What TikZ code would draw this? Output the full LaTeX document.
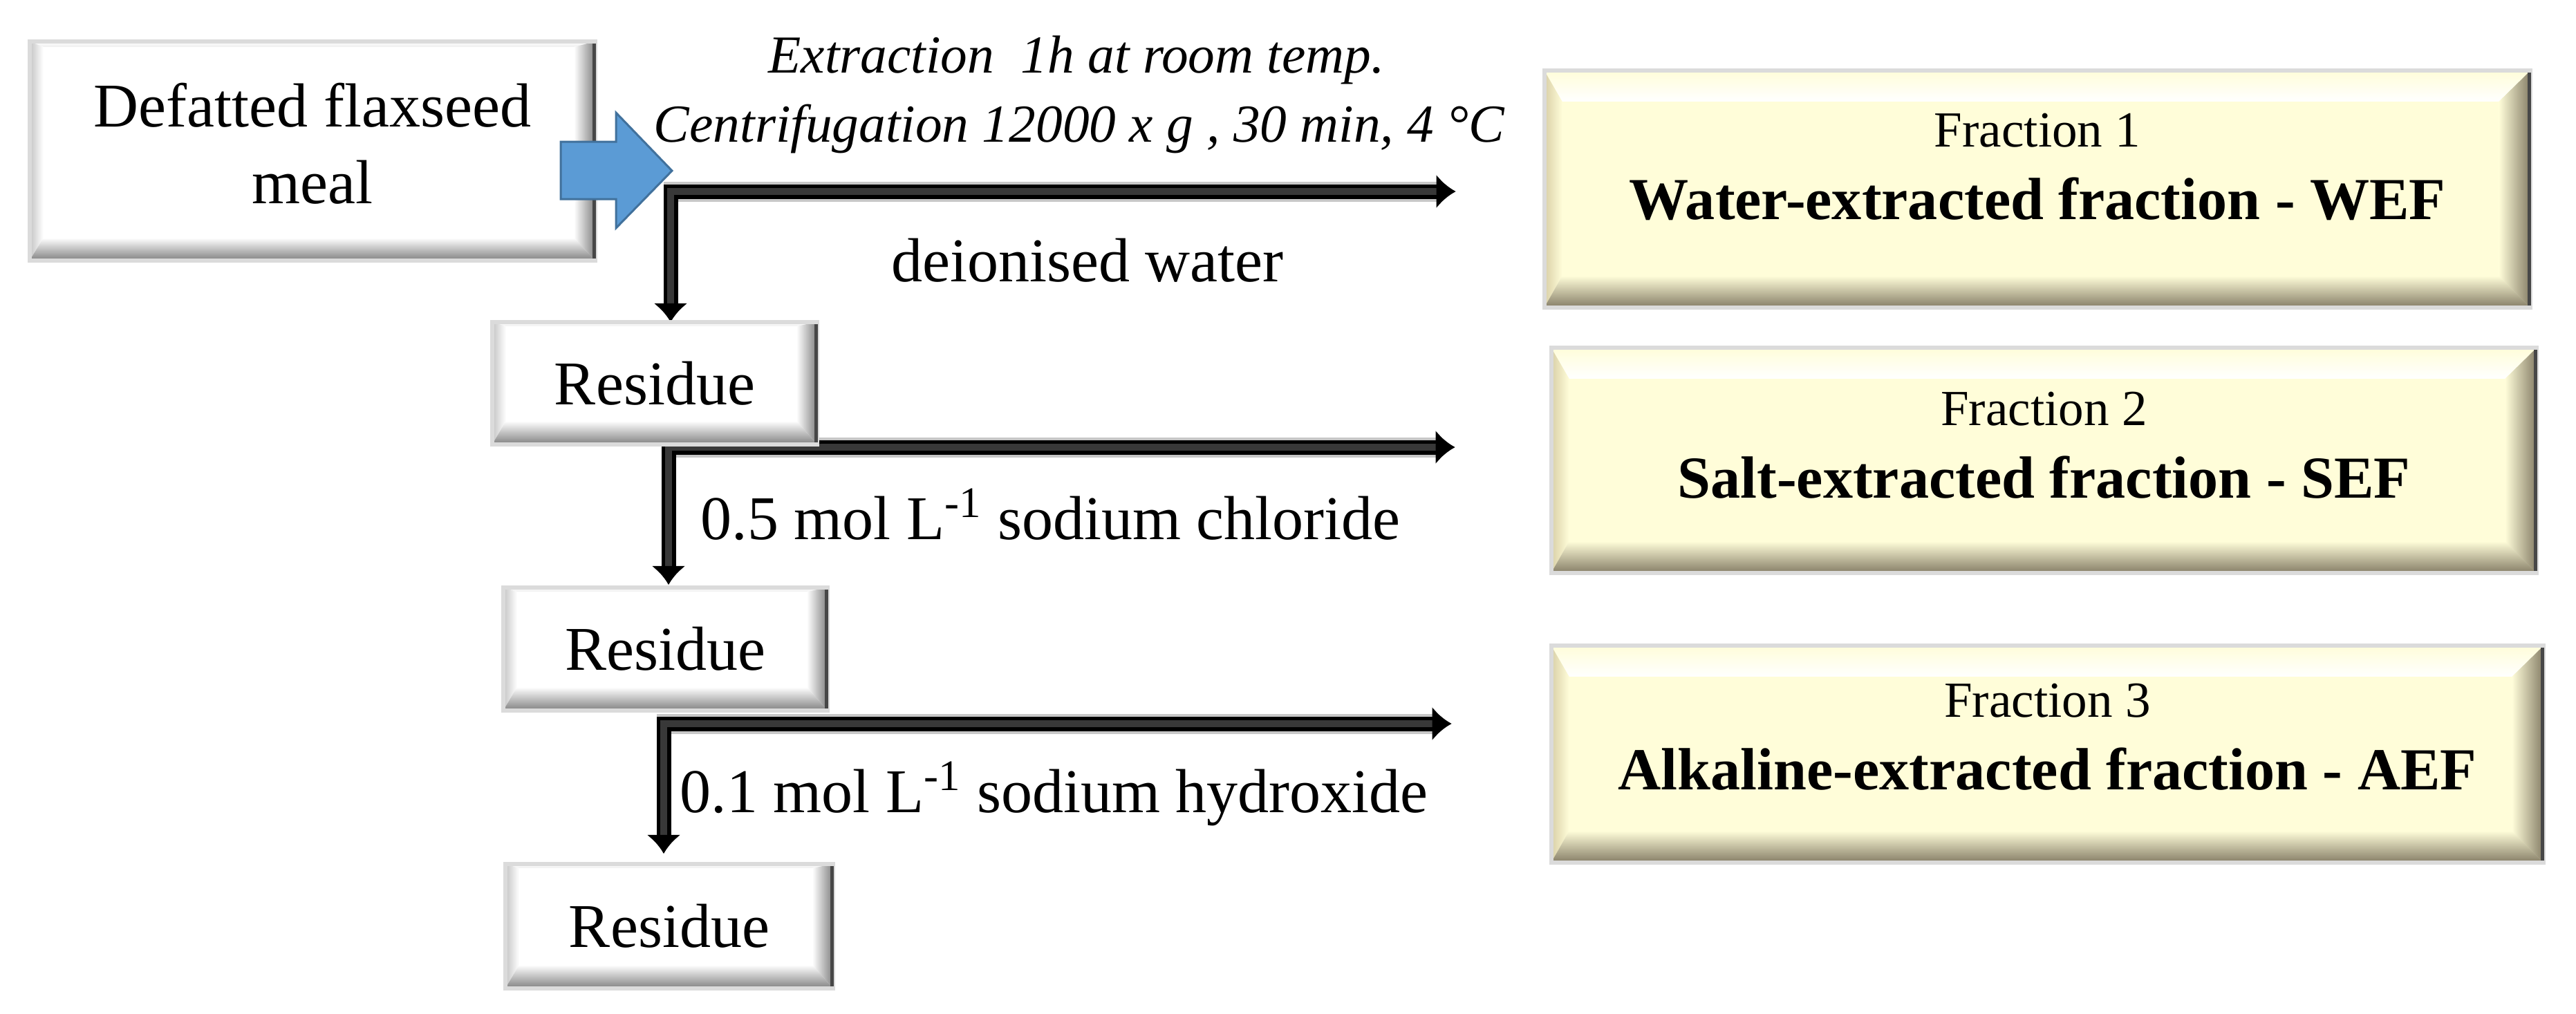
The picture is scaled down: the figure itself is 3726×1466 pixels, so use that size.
\documentclass[tikz,border=0pt]{standalone}
\usepackage{fontspec}
\setmainfont{Liberation Serif}
\usetikzlibrary{calc,arrows.meta}
\pgfdeclarelayer{bg}
\pgfdeclarelayer{mid}
\pgfsetlayers{bg,mid,main}
\definecolor{cream}{HTML}{FFFDD9}
\definecolor{creamleft}{HTML}{D9CFA6}
\definecolor{creamdark}{HTML}{857D66}
\definecolor{greyleft}{HTML}{C4C4C4}
\definecolor{greydark}{HTML}{808080}
\definecolor{blueA}{HTML}{5B9BD5}
\definecolor{blueB}{HTML}{41719C}
% #1 node, #2 L, #3 T, #4 R, #5 B, #6 face, #7 top light, #8 left, #9 dark
\newcommand\bevelbox[9]{%
  \coordinate (#1-a) at ($(#1.north west)+(#2,#3)$);
  \coordinate (#1-b) at ($(#1.north east)+(-#4,#3)$);
  \coordinate (#1-c) at ($(#1.south east)+(-#4,-#5)$);
  \coordinate (#1-d) at ($(#1.south west)+(#2,-#5)$);
  \fill[#6] (#1.north west) rectangle (#1.south east);
  \shade[top color=#6, bottom color=#7] (#1.north west) -- (#1.north east) -- (#1-b) -- (#1-a) -- cycle;
  \shade[left color=#8, right color=#6] (#1.north west) -- (#1-a) -- (#1-d) -- (#1.south west) -- cycle;
  \shade[left color=#6, right color=#9] (#1.north east) -- (#1-b) -- (#1-c) -- (#1.south east) -- cycle;
  \shade[top color=#6, bottom color=#9] (#1.south west) -- (#1-d) -- (#1-c) -- (#1.south east) -- cycle;
  \draw[black!14, line width=0.06cm] (#1.north west) rectangle (#1.south east);
  \draw[black!72, line width=0.05cm] ($(#1.north east)+(-2,3)$) -- ($(#1.south east)+(-2,-3)$);
}
\begin{document}
\begin{tikzpicture}[x=0.01cm, y=-0.01cm,
  box/.style={rectangle, inner sep=0pt, outer sep=0pt, text=black, align=center},
  reg/.style={font=\fontsize{25.6}{31.6}\selectfont},
  fracbox/.style={box, font=\fontsize{24.5}{29.9}\selectfont},
  lab/.style={inner sep=0pt, font=\fontsize{25.6}{30}\selectfont},
  ital/.style={inner sep=0pt, font=\fontsize{22}{26}\selectfont\itshape},
  flow/.style={draw=black, double=black!78, line width=0.055cm, double distance=0.10cm,
    line join=miter, {Latex[length=0.27cm,width=0.5cm]}-{Latex[length=0.28cm,width=0.5cm]}},
  halo/.style={draw=black!22, line width=0.29cm}
]
\useasboundingbox (0,0) rectangle (3726,1466);

% boxes
\node[box, reg, minimum width=8.18cm, minimum height=3.17cm, text depth=0.22cm] (D) at (452,218.5) {Defatted flaxseed\\meal};
\node[box, reg, minimum width=4.70cm, minimum height=1.77cm] (R1) at (947,554.5) {Residue};
\node[box, reg, minimum width=4.69cm, minimum height=1.78cm] (R2) at (962.5,939) {Residue};
\node[box, reg, minimum width=4.74cm, minimum height=1.80cm] (R3) at (968,1340) {Residue};

\node[fracbox, minimum width=14.26cm, minimum height=3.43cm, text depth=0.66cm] (F1) at (2947,273.5)
  {{\fontsize{20.8}{29.9}\selectfont Fraction 1}\\{\bfseries Water-extracted fraction - WEF}};
\node[fracbox, minimum width=14.25cm, minimum height=3.26cm, text depth=0.45cm] (F2) at (2956.5,666)
  {{\fontsize{20.8}{29.9}\selectfont Fraction 2}\\{\bfseries Salt-extracted fraction - SEF}};
\node[fracbox, minimum width=14.35cm, minimum height=3.14cm, text depth=0.50cm] (F3) at (2961.5,1091)
  {{\fontsize{20.8}{29.9}\selectfont Fraction 3}\\{\bfseries Alkaline-extracted fraction - AEF}};

% bevel faces
\begin{pgfonlayer}{mid}
  \bevelbox{D}{20}{8}{31}{33}{white}{black!6}{greyleft}{greydark}
  \bevelbox{R1}{20}{6}{30}{34}{white}{black!6}{greyleft}{greydark}
  \bevelbox{R2}{20}{6}{30}{34}{white}{black!6}{greyleft}{greydark}
  \bevelbox{R3}{20}{6}{30}{34}{white}{black!6}{greyleft}{greydark}
  \bevelbox{F1}{26}{45}{46}{46}{cream}{white}{creamleft}{creamdark}
  \bevelbox{F2}{26}{45}{46}{46}{cream}{white}{creamleft}{creamdark}
  \bevelbox{F3}{26}{45}{46}{46}{cream}{white}{creamleft}{creamdark}
\end{pgfonlayer}

% labels
\node[ital, anchor=base] (ext1) at (1557,105) {Extraction\ \ 1h at room temp.};
\node[ital, anchor=base] (ext2) at (1561,205) {Centrifugation 12000 x g , 30 min, 4 °C};
\node[lab, anchor=base] (water) at (1573,407) {deionised water};
\node[lab, anchor=base west] (nacl) at (1013,780) {0.5 mol L\textsuperscript{-1} sodium chloride};
\node[lab, anchor=base west] (naoh) at (983,1175) {0.1 mol L\textsuperscript{-1} sodium hydroxide};

% junctions
\coordinate (bt) at (972,247);
\coordinate (j1) at (970,277);
\coordinate (j2) at (967,647);
\coordinate (j3) at (960,1047);

% block arrow from the meal
\filldraw[fill=blueA, draw=blueB, line width=0.03cm] (bt) -- ++(-81,83) -- ++(0,-42) -- ++(-80,0)
  -- ++(0,-83) -- ++(80,0) -- ++(0,-42) -- cycle;

% flow connectors
\begin{pgfonlayer}{bg}
  \draw[halo, shorten >=1.50cm] ($(j1)+(-10,0)$) -- (j1 -| F1.west);
  \draw[halo, shorten >=1.61cm] ($(j2)+(-10,0)$) -- (j2 -| F2.west);
  \draw[halo, shorten >=1.66cm] ($(j3)+(-10,0)$) -- (j3 -| F3.west);
  \draw[flow, shorten >=1.28cm] (j1 |- R1.north) -- (j1) -- (j1 -| F1.west);
  \draw[flow, shorten >=1.39cm, shorten <=0.04cm] (j2 |- R2.north) -- (j2) -- (j2 -| F2.west);
  \draw[flow, shorten >=1.44cm, shorten <=0.15cm] (j3 |- R3.north) -- (j3) -- (j3 -| F3.west);
\end{pgfonlayer}
\end{tikzpicture}
\end{document}
